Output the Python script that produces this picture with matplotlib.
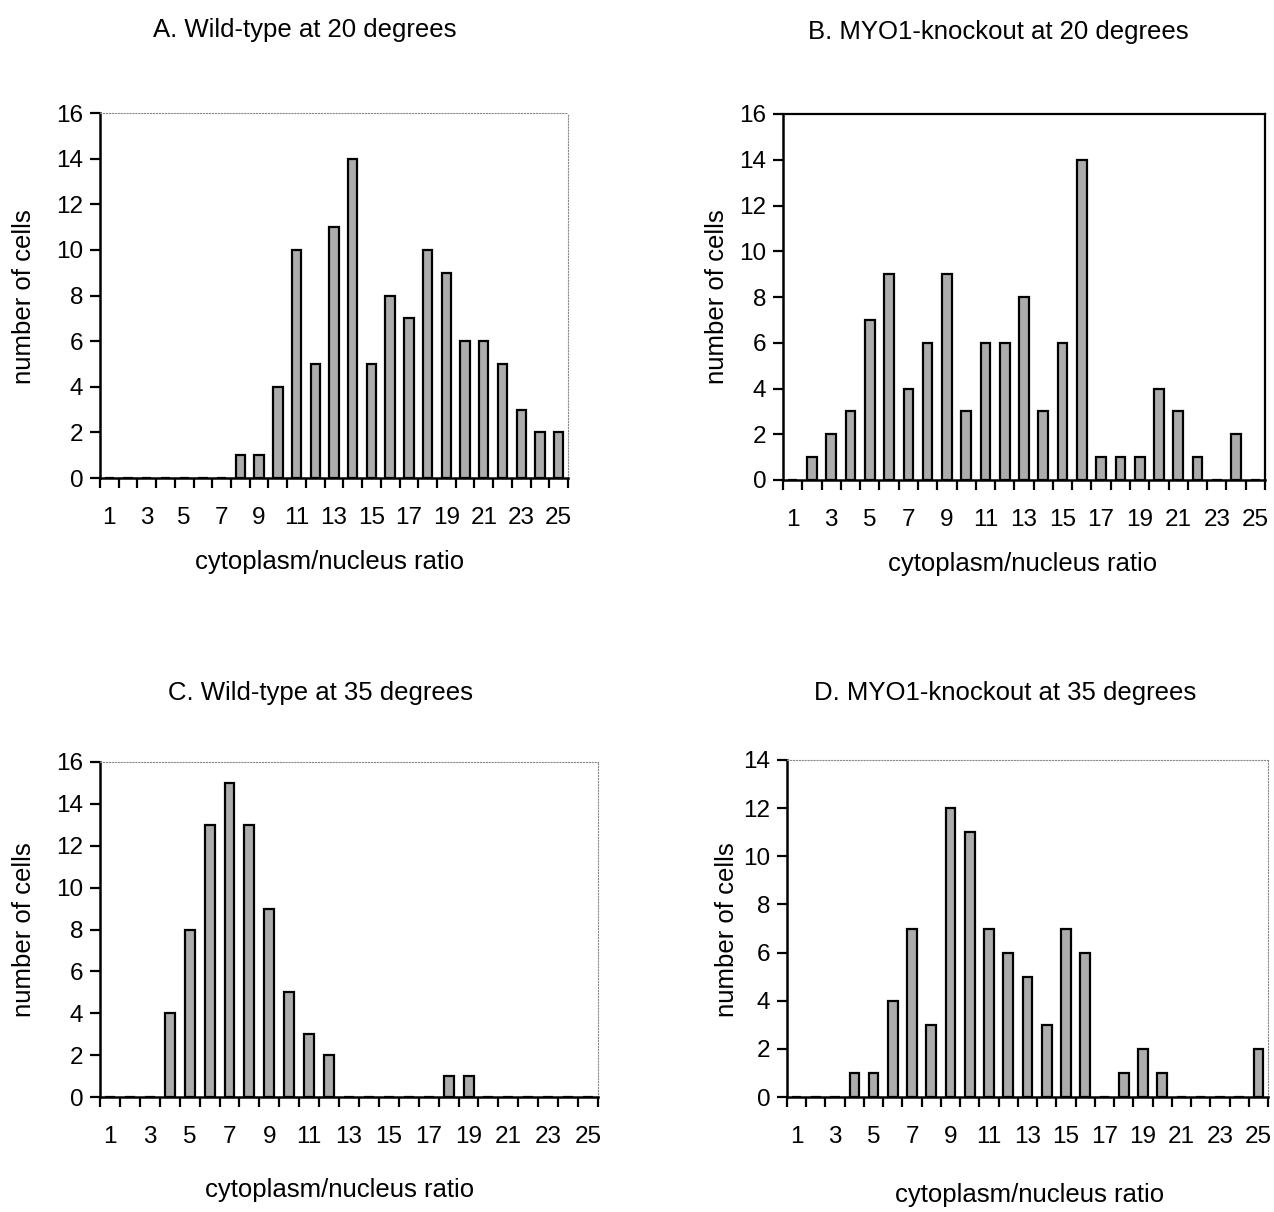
import numpy as np
import matplotlib
matplotlib.use("Agg")
import matplotlib.pyplot as plt
from matplotlib.ticker import MultipleLocator

plt.rcParams["font.family"] = ["Liberation Sans", "DejaVu Sans"]

ratios = list(range(1, 26))
tickLabels = [str(r) for r in ratios[::2]]

wildType20 = [0, 0, 0, 0, 0, 0, 0, 1, 1, 4, 10, 5, 11, 14, 5, 8, 7, 10, 9, 6, 6, 5, 3, 2, 2]
knockout20 = [0, 1, 2, 3, 7, 9, 4, 6, 9, 3, 6, 6, 8, 3, 6, 14, 1, 1, 1, 4, 3, 1, 0, 2, 0]
wildType35 = [0, 0, 0, 4, 8, 13, 15, 13, 9, 5, 3, 2, 0, 0, 0, 0, 0, 1, 1, 0, 0, 0, 0, 0, 0]
knockout35 = [0, 0, 0, 1, 1, 4, 7, 3, 12, 11, 7, 6, 5, 3, 7, 6, 0, 1, 2, 1, 0, 0, 0, 0, 2]

titles = [
    "A. Wild-type at 20 degrees",
    "B. MYO1-knockout at 20 degrees",
    "C. Wild-type at 35 degrees",
    "D. MYO1-knockout at 35 degrees",
]
yMax = [16, 16, 16, 14]

W, H = 1274, 1212
fig = plt.figure(figsize=(W / 100, H / 100), dpi=100)


def fx(x):
    return x / W


def fy(y):
    return 1 - y / H


# axes boxes in pixels: left, top, right, bottom
boxes = [
    (100, 113, 568, 478),
    (783, 114, 1265, 480),
    (100, 762, 598, 1097),
    (787, 760, 1268, 1097),
]
titlePos = [(305, 30), (998, 32), (320, 693), (1005, 693)]
yLabelPos = [(24, 297), (717, 297), (24, 930), (727, 930)]
xLabelPos = [(330, 562), (1023, 564), (340, 1190), (1030, 1195)]
darkFrame = [False, True, False, False]

allData = [wildType20, knockout20, wildType35, knockout35]

for i, data in enumerate(allData):
    l, t, r, b = boxes[i]
    ax = fig.add_axes([fx(l), fy(b), fx(r - l), (b - t) / H])
    ax.bar(ratios, data, width=0.5, color="#acacac", edgecolor="black",
           linewidth=1.6, zorder=3)
    ax.set_xlim(0.5, 25.5)
    ax.set_ylim(0, yMax[i])
    ax.yaxis.set_major_locator(MultipleLocator(2))
    ax.set_xticks(ratios[::2])
    ax.set_xticklabels(tickLabels)
    ax.set_xticks(np.arange(0.5, 26, 1), minor=True)
    ax.tick_params(axis="x", which="major", length=0, pad=21, labelsize=17.5)
    ax.tick_params(axis="x", which="minor", length=7, width=1.6, direction="out")
    ax.tick_params(axis="y", length=7, width=1.6, pad=5, labelsize=17.5)
    for side in ["left", "bottom"]:
        ax.spines[side].set_linewidth(1.8)
    for side in ["top", "right"]:
        if darkFrame[i]:
            ax.spines[side].set_linewidth(1.6)
        else:
            ax.spines[side].set_color("#8a8a8a")
            ax.spines[side].set_linewidth(0.8)
            ax.spines[side].set_linestyle(":")

    tx, ty = titlePos[i]
    fig.text(fx(tx), fy(ty), titles[i], ha="center", va="center", fontsize=18.5)
    lx, ly = yLabelPos[i]
    fig.text(fx(lx), fy(ly), "number of cells", ha="center", va="center",
             rotation=90, fontsize=18.5)
    xx, xy = xLabelPos[i]
    fig.text(fx(xx), fy(xy), "cytoplasm/nucleus ratio", ha="center",
             va="center", fontsize=18.5)

plt.savefig("out.png", dpi=100)
